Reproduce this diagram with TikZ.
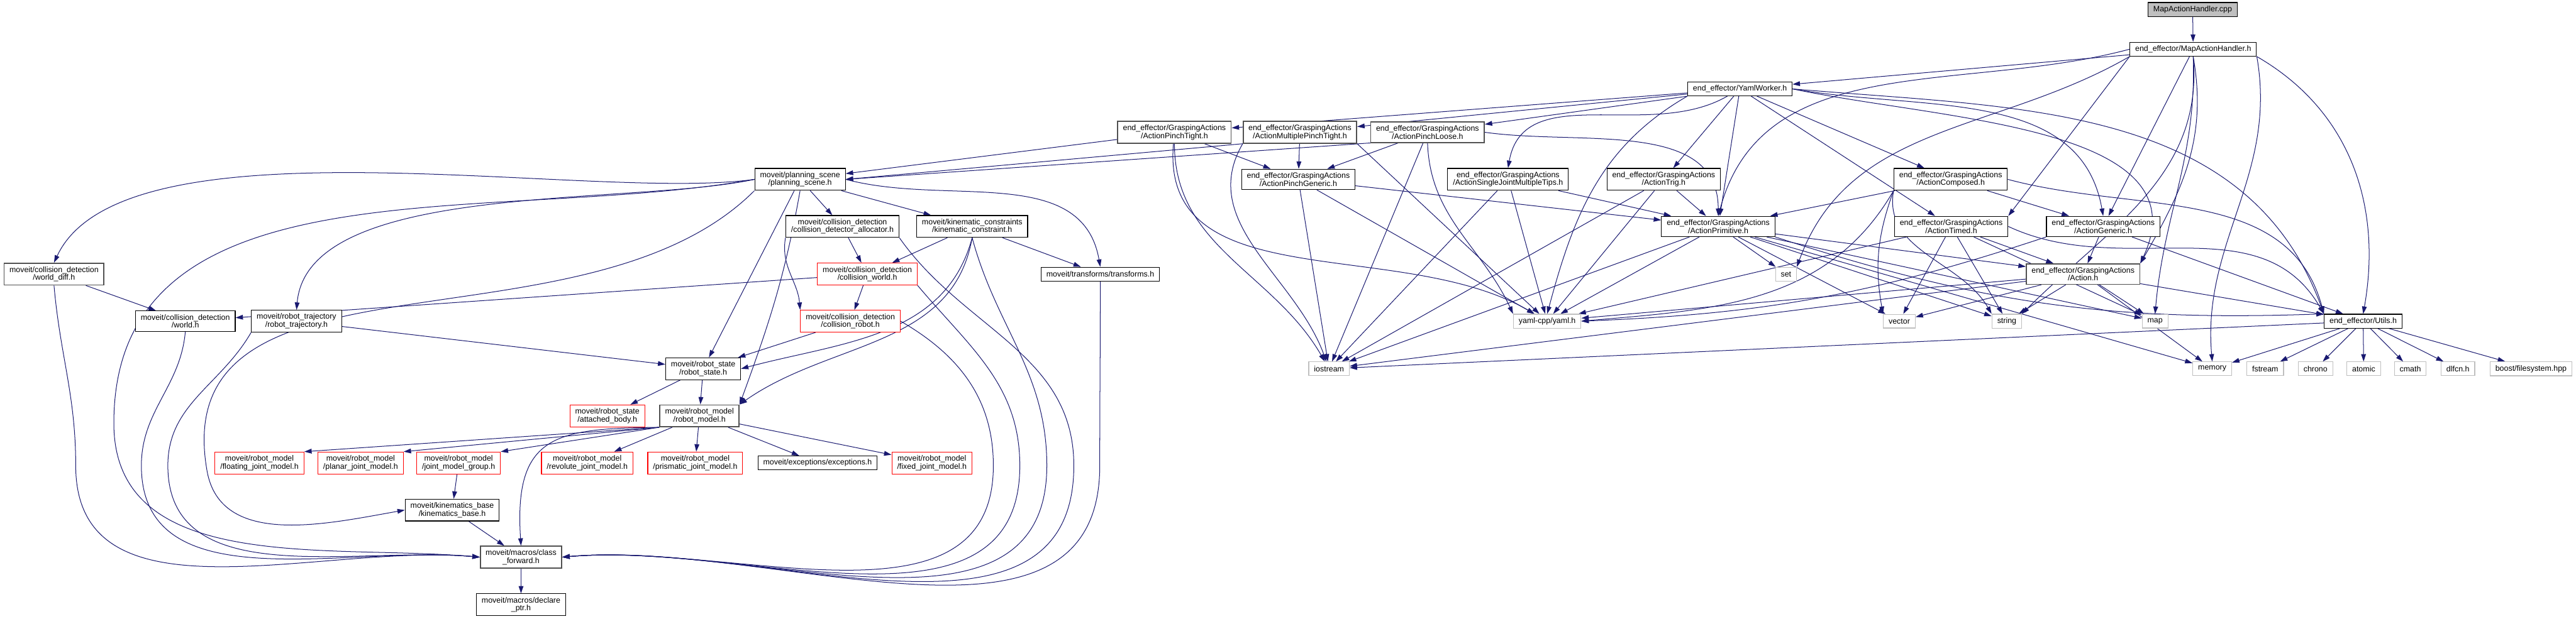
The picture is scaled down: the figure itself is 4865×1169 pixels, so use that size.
\documentclass[tikz,border=0pt]{standalone}
\usepackage{fontspec}
\setmainfont{Liberation Sans}
\usetikzlibrary{arrows.meta}
\definecolor{edgeblue}{RGB}{25,25,112}
\definecolor{sysgrey}{RGB}{191,191,191}
\definecolor{boxgrey}{RGB}{80,80,80}
\newcommand{\dxfont}{\fontsize{4.2}{4.27}\selectfont}
\pgfdeclarelayer{edges}
\pgfsetlayers{edges,main}

\begin{document}
\begin{tikzpicture}[x=0.01cm,y=-0.01cm,
  hdr/.style={draw=black,fill=white,line width=0.38pt,inner xsep=0.1cm,inner ysep=0.063cm,
              minimum height=0.26cm,align=center,font=\dxfont},
  hgrey/.style={hdr,draw=boxgrey,line width=0.55pt},
  hred/.style={hdr,draw=red},
  hsys/.style={hdr,draw=sysgrey},
  hroot/.style={hdr,fill=sysgrey},
  dep/.style={draw=edgeblue,line width=0.34pt,-{Triangle[length=0.14cm,width=0.09cm]}}]

  \useasboundingbox (0,0) rectangle (4865,1169);

  % top of the graph
  \node[hroot] (cpp)  at (4141,18)  {MapActionHandler.cpp};
  \node[hdr]   (mah)  at (4142,93)  {end\_effector/MapActionHandler.h};
  \node[hdr]   (ymw)  at (3286,168) {end\_effector/YamlWorker.h};

  % grasping actions
  \node[hgrey] (apt)    at (2218,250) {end\_effector/GraspingActions\\/ActionPinchTight.h};
  \node[hgrey] (ampt)   at (2455,250) {end\_effector/GraspingActions\\/ActionMultiplePinchTight.h};
  \node[hgrey] (apl)    at (2696,250) {end\_effector/GraspingActions\\/ActionPinchLoose.h};
  \node[hdr]   (apg)    at (2452,339) {end\_effector/GraspingActions\\/ActionPinchGeneric.h};
  \node[hdr]   (asj)    at (2848,339) {end\_effector/GraspingActions\\/ActionSingleJointMultipleTips.h};
  \node[hdr]   (atrig)  at (3142,339) {end\_effector/GraspingActions\\/ActionTrig.h};
  \node[hdr]   (acomp)  at (3684,339) {end\_effector/GraspingActions\\/ActionComposed.h};
  \node[hdr]   (aprim)  at (3245,428) {end\_effector/GraspingActions\\/ActionPrimitive.h};
  \node[hdr]   (atimed) at (3685,428) {end\_effector/GraspingActions\\/ActionTimed.h};
  \node[hdr]   (agen)   at (3972,428) {end\_effector/GraspingActions\\/ActionGeneric.h};
  \node[hgrey] (act)    at (3934,518) {end\_effector/GraspingActions\\/Action.h};
  \node[hdr]   (utils)  at (4463,607) {end\_effector/Utils.h};

  % system headers
  \node[hsys] (set)    at (3373,518) {set};
  \node[hsys] (yaml)   at (2922,607) {yaml-cpp/yaml.h};
  \node[hsys] (vec)    at (3587,607) {vector};
  \node[hsys] (str)    at (3790,607) {string};
  \node[hsys] (map)    at (4070,607) {map};
  \node[hsys] (ios)    at (2510,697) {iostream};
  \node[hsys] (mem)    at (4178,697) {memory};
  \node[hsys] (fstr)   at (4278,697) {fstream};
  \node[hsys] (chrono) at (4373,697) {chrono};
  \node[hsys] (atomic) at (4464,697) {atomic};
  \node[hsys] (cmath)  at (4552,697) {cmath};
  \node[hsys] (dlfcn)  at (4642,697) {dlfcn.h};
  \node[hsys] (boost)  at (4780,697) {boost/filesystem.hpp};

  % moveit
  \node[hdr]   (ps)     at (1511,339) {moveit/planning\_scene\\/planning\_scene.h};
  \node[hdr]   (cda)    at (1591,428) {moveit/collision\_detection\\/collision\_detector\_allocator.h};
  \node[hdr]   (kc)     at (1836,428) {moveit/kinematic\_constraints\\/kinematic\_constraint.h};
  \node[hgrey] (wdiff)  at (102,518)  {moveit/collision\_detection\\/world\_diff.h};
  \node[hred]  (cworld) at (1638,518) {moveit/collision\_detection\\/collision\_world.h};
  \node[hdr]   (tf)     at (2078,518) {moveit/transforms/transforms.h};
  \node[hdr]   (world)  at (350,607)  {moveit/collision\_detection\\/world.h};
  \node[hdr]   (rtraj)  at (560,607)  {moveit/robot\_trajectory\\/robot\_trajectory.h};
  \node[hred]  (crobot) at (1606,607) {moveit/collision\_detection\\/collision\_robot.h};
  \node[hdr]   (rstate) at (1328,697) {moveit/robot\_state\\/robot\_state.h};
  \node[hred]  (abody)  at (1147,786) {moveit/robot\_state\\/attached\_body.h};
  \node[hgrey] (rmodel) at (1321,786) {moveit/robot\_model\\/robot\_model.h};
  \node[hred]  (floatj) at (490,875)  {moveit/robot\_model\\/floating\_joint\_model.h};
  \node[hred]  (planj)  at (681,875)  {moveit/robot\_model\\/planar\_joint\_model.h};
  \node[hred]  (jmg)    at (866,875)  {moveit/robot\_model\\/joint\_model\_group.h};
  \node[hred]  (revj)   at (1109,875) {moveit/robot\_model\\/revolute\_joint\_model.h};
  \node[hred]  (prisj)  at (1313,875) {moveit/robot\_model\\/prismatic\_joint\_model.h};
  \node[hdr]   (exc)    at (1544,875) {moveit/exceptions/exceptions.h};
  \node[hred]  (fixj)   at (1760,875) {moveit/robot\_model\\/fixed\_joint\_model.h};
  \node[hdr]   (kbase)  at (854,964)  {moveit/kinematics\_base\\/kinematics\_base.h};
  \node[hgrey] (cfwd)   at (984,1053) {moveit/macros/class\\\_forward.h};
  \node[hdr]   (dptr)   at (984,1143) {moveit/macros/declare\\\_ptr.h};

  \begin{pgfonlayer}{edges}
  \draw[dep] (cpp) -- (mah);

  % MapActionHandler.h
  \draw[dep] (mah) -- (ymw);
  \draw[dep] (mah.west) to[out=195,in=75] (aprim.north);
  \draw[dep] (mah.south west) to[out=-150,in=70] (set.north east);
  \draw[dep] (mah.south west) -- (atimed.north east);
  \draw[dep] (mah) -- (agen);
  \draw[dep] (mah.south) to[out=-80,in=60] (act.north east);
  \draw[dep] (mah.south) to[out=-85,in=45] (str.north east);
  \draw[dep] (mah.south) to[out=-88,in=85] (map.north);
  \draw[dep] (mah.south east) to[out=-80,in=95] (mem.north);
  \draw[dep] (mah.south east) to[out=-30,in=80] (utils.north);

  % YamlWorker.h
  \draw[dep] (ymw) -- (apt);
  \draw[dep] (ymw) -- (ampt);
  \draw[dep] (ymw) -- (apl);
  \draw[dep] (ymw) to[out=-150,in=80] (asj.north);
  \draw[dep] (ymw) -- (atrig);
  \draw[dep] (ymw) -- (aprim);
  \draw[dep] (ymw) -- (acomp);
  \draw[dep] (ymw) -- (atimed);
  \draw[dep] (ymw.east) to[out=-10,in=100] (agen.north);
  \draw[dep] (ymw.east) to[out=-12,in=65] (act.north east);
  \draw[dep] (ymw.south west) to[out=-150,in=75] (yaml.north);
  \draw[dep] (ymw.east) to[out=-5,in=110] (utils.north west);

  % pinch actions
  \draw[dep] (apt) -- (ps);
  \draw[dep] (apt) -- (apg);
  \draw[dep] (apt) to[out=-95,in=150] (yaml);
  \draw[dep] (apt) to[out=-90,in=120] (ios);
  \draw[dep] (ampt.south west) -- (ps.east);
  \draw[dep] (ampt) -- (apg);
  \draw[dep] (ampt.south east) -- (yaml);
  \draw[dep] (ampt.south west) to[out=-120,in=110] (ios);
  \draw[dep] (apl.south west) -- (ps.east);
  \draw[dep] (apl) -- (apg);
  \draw[dep] (apl) -- (ios);
  \draw[dep] (apl.south) to[out=-88,in=115] (yaml.north west);
  \draw[dep] (apl.east) to[out=-8,in=90] (aprim.north);
  \draw[dep] (apg) -- (aprim);
  \draw[dep] (apg) -- (yaml);
  \draw[dep] (apg) -- (ios);
  \draw[dep] (asj) -- (aprim);
  \draw[dep] (asj) -- (yaml);
  \draw[dep] (asj) -- (ios);
  \draw[dep] (atrig) -- (aprim);
  \draw[dep] (atrig) -- (yaml);
  \draw[dep] (atrig) -- (ios);

  % ActionPrimitive.h and the rest
  \draw[dep] (aprim) -- (act);
  \draw[dep] (aprim) -- (yaml);
  \draw[dep] (aprim) -- (ios);
  \draw[dep] (aprim) -- (set);
  \draw[dep] (aprim) -- (vec);
  \draw[dep] (aprim) -- (str);
  \draw[dep] (aprim) -- (map);
  \draw[dep] (aprim) -- (mem);
  \draw[dep] (aprim.south east) to[bend right=10] (utils.north west);
  \draw[dep] (acomp) -- (aprim);
  \draw[dep] (acomp) -- (agen);
  \draw[dep] (acomp.south west) to[out=-120,in=5] (yaml.east);
  \draw[dep] (acomp.south west) to[out=-110,in=100] (vec.north west);
  \draw[dep] (acomp.south west) to[out=-100,in=120] (str.north west);
  \draw[dep] (acomp.east) to[out=-15,in=105] (utils.north west);
  \draw[dep] (atimed) -- (act);
  \draw[dep] (atimed) -- (yaml);
  \draw[dep] (atimed) -- (vec);
  \draw[dep] (atimed) -- (str);
  \draw[dep] (atimed) -- (map);
  \draw[dep] (atimed.east) to[out=-25,in=120] (utils.north west);
  \draw[dep] (agen) -- (act);
  \draw[dep] (agen.south west) to[bend left=8] (yaml.east);
  \draw[dep] (agen) -- (utils);
  \draw[dep] (act) -- (yaml);
  \draw[dep] (act) -- (ios);
  \draw[dep] (act) -- (vec);
  \draw[dep] (act) -- (str);
  \draw[dep] (act) -- (map);
  \draw[dep] (act) -- (mem);
  \draw[dep] (act) -- (utils);

  % Utils.h
  \draw[dep] (utils) -- (ios);
  \draw[dep] (utils) -- (mem);
  \draw[dep] (utils) -- (fstr);
  \draw[dep] (utils) -- (chrono);
  \draw[dep] (utils) -- (atomic);
  \draw[dep] (utils) -- (cmath);
  \draw[dep] (utils) -- (dlfcn);
  \draw[dep] (utils) -- (boost);

  % planning scene
  \draw[dep] (ps.west) to[out=188,in=65,looseness=0.6] (wdiff.north);
  \draw[dep] (ps.west) to[out=192,in=85,looseness=0.7] (rtraj.north);
  \draw[dep] (ps.west) to[out=190,in=90] (215,800) to[out=-90,in=175] (cfwd.west);
  \draw[dep] (ps.south west) to[out=-135,in=100] (391,890) to[out=-80,in=190] (kbase.west);
  \draw[dep] (ps) -- (rstate);
  \draw[dep] (ps.south) to[out=-100,in=70] (rmodel.north east);
  \draw[dep] (ps) -- (cda);
  \draw[dep] (ps) -- (kc);
  \draw[dep] (ps.east) to[out=-15,in=100] (tf.north);

  % collision detection
  \draw[dep] (wdiff) -- (world);
  \draw[dep] (wdiff.south) to[out=-85,in=90] (143,880) to[out=-90,in=175] (cfwd.west);
  \draw[dep] (world.south) to[out=-95,in=90] (267,880) to[out=-90,in=175] (cfwd.west);
  \draw[dep] (rtraj.south west) to[out=-120,in=90] (317,880) to[out=-90,in=175] (cfwd.west);
  \draw[dep] (rtraj) -- (rstate);
  \draw[dep] (cda) -- (cworld);
  \draw[dep] (cda.south west) to[out=-100,in=95] (crobot.north west);
  \draw[dep] (cda.south east) to[out=-55,in=90] (2028,880) to[out=-90,in=5] (cfwd.east);
  \draw[dep] (kc) -- (cworld);
  \draw[dep] (kc.south) to[out=-105,in=15] (rstate.east);
  \draw[dep] (kc.south) to[out=-100,in=35] (rmodel.north east);
  \draw[dep] (kc) -- (tf);
  \draw[dep] (kc.south) to[out=-75,in=90] (1977,880) to[out=-90,in=5] (cfwd.east);
  \draw[dep] (cworld) -- (world);
  \draw[dep] (cworld) -- (crobot);
  \draw[dep] (cworld.south east) to[out=-50,in=90] (1926,880) to[out=-90,in=5] (cfwd.east);
  \draw[dep] (crobot) -- (rstate);
  \draw[dep] (crobot.east) to[out=-30,in=90] (1876,880) to[out=-90,in=5] (cfwd.east);
  \draw[dep] (tf.south) to[out=-90,in=90] (2077,880) to[out=-90,in=5] (cfwd.east);

  % robot state / model
  \draw[dep] (rstate) -- (abody);
  \draw[dep] (rstate) -- (rmodel);
  \draw[dep] (rmodel.south west) -- (floatj.north east);
  \draw[dep] (rmodel.south west) -- (planj.north east);
  \draw[dep] (rmodel.south west) -- (jmg.north east);
  \draw[dep] (rmodel) -- (revj);
  \draw[dep] (rmodel) -- (prisj);
  \draw[dep] (rmodel) -- (exc);
  \draw[dep] (rmodel) -- (fixj);
  \draw[dep] (rmodel.south west) .. controls (1050,810) and (970,820) .. (cfwd.north);
  \draw[dep] (jmg) -- (kbase);
  \draw[dep] (kbase) -- (cfwd);
  \draw[dep] (cfwd) -- (dptr);
  \end{pgfonlayer}

\end{tikzpicture}
\end{document}
